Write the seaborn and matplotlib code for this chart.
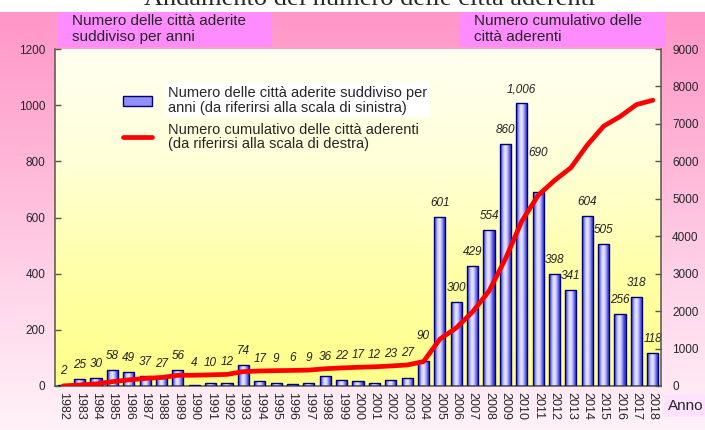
import numpy as np
import pandas as pd
import matplotlib
matplotlib.use("Agg")
import matplotlib.pyplot as plt
import seaborn as sns
from matplotlib.colors import LinearSegmentedColormap
from matplotlib.patches import Rectangle
from matplotlib.lines import Line2D

# ---------------- data ----------------
years = ["1982", "1983", "1984", "1985", "1986", "1987", "1988", "1989", "1990",
         "1991", "1992", "1993", "1994", "1995", "1996", "1997", "1998", "1999",
         "2000", "2001", "2002", "2003", "2004", "2005", "2006", "2007", "2008",
         "2009", "2010", "2011", "2012", "2013", "2014", "2015", "2016", "2017",
         "2018"]
annual = [2, 25, 30, 58, 49, 37, 27, 56, 4, 10, 12, 74, 17, 9, 6, 9, 36, 22,
          17, 12, 23, 27, 90, 601, 300, 429, 554, 860, 1006, 690, 398, 341,
          604, 505, 256, 318, 118]
cumulative = [2, 27, 57, 115, 164, 201, 228, 284, 288, 298, 310, 384, 401, 410,
              416, 425, 461, 483, 500, 512, 535, 562, 652, 1253, 1553, 1982,
              2536, 3396, 4402, 5092, 5490, 5831, 6435, 6940, 7196, 7514, 7632]
left_ticks = [0, 200, 400, 600, 800, 1000, 1200]
right_ticks = [0, 1000, 2000, 3000, 4000, 5000, 6000, 7000, 8000, 9000]

title = "Andamento del numero delle città aderenti"
head_left = "Numero delle città aderite\nsuddiviso per anni"
head_right = "Numero cumulativo delle\ncittà aderenti"
leg_bar = "Numero delle città aderite suddiviso per\nanni (da riferirsi alla scala di sinistra)"
leg_line = "Numero cumulativo delle città aderenti\n(da riferirsi alla scala di destra)"
x_name = "Anno"

df = pd.DataFrame({"anno": years, "annuale": annual, "cumulato": cumulative})

# ---------------- style ----------------
sns.set_style("white")
plt.rcParams["font.family"] = ["Liberation Sans", "DejaVu Sans"]

W_PX, H_PX = 705, 430
fig = plt.figure(figsize=(W_PX / 100, H_PX / 100), dpi=100)

# figure background: white strip on top, pink gradient below
bg = fig.add_axes([0, 0, 1, 1], zorder=-10)
bg.set_axis_off()
pink = LinearSegmentedColormap.from_list("pk", ["#FF96C8", "#FFB4D6", "#FFD6EA", "#FFF2F8"])
grad = np.linspace(0, 1, 256).reshape(-1, 1)
bg.imshow(grad, cmap=pink, aspect="auto", origin="upper",
          extent=[0, 1, 0, 1 - 12 / H_PX])
bg.set_xlim(0, 1)
bg.set_ylim(0, 1)

# axes geometry (pixels)
x0, x1, y_top, y_bot = 55, 661, 49, 386
rect = [x0 / W_PX, 1 - y_bot / H_PX, (x1 - x0) / W_PX, (y_bot - y_top) / H_PX]

# plot-area gradient
pa = fig.add_axes(rect, zorder=-5)
pa.set_axis_off()
yel = LinearSegmentedColormap.from_list("yl", ["#FFFFF2", "#FFFFD8", "#FFFFA8", "#FFFF88"])
pa.imshow(grad, cmap=yel, aspect="auto", origin="upper", extent=[0, 1, 0, 1])
pa.set_xlim(0, 1)
pa.set_ylim(0, 1)

ax = fig.add_axes(rect)
ax.patch.set_visible(False)

sns.barplot(data=df, x="anno", y="annuale", ax=ax, color="#9C9CFF",
            width=0.68, edgecolor="#00007A", linewidth=1.0, saturation=1)

# cylinder-like shading for each bar
cyl = LinearSegmentedColormap.from_list(
    "cyl", ["#2A2AC8", "#7C7CF2", "#D8D8FF", "#E8E8FF", "#A8A8FA", "#5050E0", "#2A2AC8"])
hg = np.linspace(0, 1, 64).reshape(1, -1)
for p in list(ax.patches):
    xx, ww, hh = p.get_x(), p.get_width(), p.get_height()
    im = ax.imshow(hg, cmap=cyl, aspect="auto", extent=[xx, xx + ww, 0, hh],
                   zorder=2.5, interpolation="bilinear")
    im.set_clip_path(p)
    p.set_facecolor("none")
    p.set_zorder(3)

ax.set_xlim(-0.5, len(years) - 0.5)
ax.set_ylim(left_ticks[0], left_ticks[-1])
ax.set_yticks(left_ticks)
ax.set_xlabel("")
ax.set_ylabel("")

# value labels
h_px = y_bot - y_top
for i, (yr, v, c) in enumerate(zip(years, annual, cumulative)):
    v_px = v / left_ticks[-1] * h_px
    l_px = c / right_ticks[-1] * h_px
    off = 14
    if l_px + 12 > v_px + 14 and l_px < v_px + 40:
        off = l_px + 12 - v_px
    if yr == "2004":
        off += 11
    if yr == "2011":
        off += 25
    txt = f"{v:,}"
    ax.annotate(txt, xy=(i, v), xytext=(0, off * 0.72), textcoords="offset points",
                ha="center", va="center", fontsize=8.5, fontstyle="italic",
                color="#222222", zorder=6)

# cumulative line on the right scale
ax2 = ax.twinx()
sns.lineplot(data=df, x="anno", y="cumulato", ax=ax2, color="#FF0000",
             linewidth=3.4, sort=False)
ax2.set_ylim(right_ticks[0], right_ticks[-1])
ax2.set_yticks(right_ticks)
ax2.set_xlim(-0.5, len(years) - 0.5)
ax2.set_ylabel("")
ax2.set_xlabel("")

# spines / ticks
for a in (ax, ax2):
    for s in a.spines.values():
        s.set_color("#55554A")
        s.set_linewidth(1.1)
    a.spines["top"].set_visible(False)
ax2.spines["left"].set_visible(False)
ax2.spines["bottom"].set_visible(False)
ax.spines["right"].set_visible(False)

ax.tick_params(axis="y", direction="in", length=4, width=1, color="#55554A",
               labelsize=8.5, pad=7)
ax2.tick_params(axis="y", direction="in", length=4, width=1, color="#55554A",
                labelsize=8.5, pad=8)
ax.tick_params(axis="x", which="major", length=0, labelsize=9, pad=4)
ax.set_xticks(range(len(years)))
ax.set_xticklabels(years, rotation=-90, va="top", ha="center")
ax.set_xticks(np.arange(0.5, len(years) - 1, 1), minor=True)
ax.tick_params(axis="x", which="minor", direction="in", length=3, width=1,
               color="#55554A")
ax2.tick_params(axis="x", which="both", length=0, labelbottom=False)

# legend
handles = [Rectangle((0, 0), 1, 1, facecolor="#9090F8", edgecolor="#00007A", linewidth=1),
           Line2D([], [], color="#FF0000", linewidth=3.4)]
leg = ax2.legend(handles, [leg_bar, leg_line], loc="upper left",
                 bbox_to_anchor=((123 - x0) / (x1 - x0), (y_bot - 86) / h_px),
                 frameon=False, fontsize=10.5, handlelength=2.0, handletextpad=1.1,
                 labelspacing=0.55, borderpad=0, borderaxespad=0)
for t in leg.get_texts():
    t.set_linespacing(1.05)
leg.get_texts()[0].set_bbox(dict(facecolor="white", edgecolor="none", pad=2))
leg.set_zorder(10)

# header boxes
for bx, bw in ((58, 214), (459, 207)):
    fig.add_artist(Rectangle((bx / W_PX, 1 - 47 / H_PX), bw / W_PX, 35 / H_PX,
                             transform=fig.transFigure, facecolor="#FF8CFF",
                             edgecolor="none", zorder=1))
fig.text(72 / W_PX, 1 - 29 / H_PX, head_left, ha="left", va="center",
         fontsize=11, linespacing=1.1, zorder=2)
fig.text(474 / W_PX, 1 - 29 / H_PX, head_right, ha="left", va="center",
         fontsize=11, linespacing=1.1, zorder=2)

# title (partly cut at top, as in the reference)
fig.text(370 / W_PX, 1 - 5 / H_PX, title, ha="center", va="baseline",
         fontsize=19, family=["Liberation Serif", "DejaVu Serif"])

# "Anno"
fig.text(668 / W_PX, 1 - 406 / H_PX, x_name, ha="left", va="center", fontsize=11,
         bbox=dict(facecolor="#FFE2FF", edgecolor="none", pad=3))

fig.savefig("out.png", dpi=100)
